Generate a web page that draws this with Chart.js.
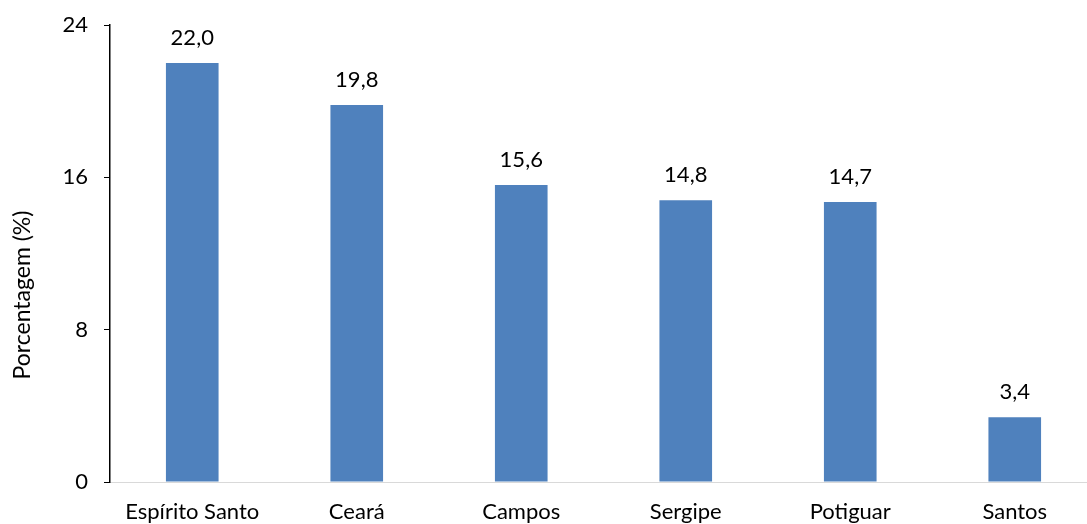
<!DOCTYPE html>
<html>
<head>
<meta charset="utf-8">
<script src="https://cdn.jsdelivr.net/npm/chart.js@4"></script>
<style>
  html, body { margin: 0; padding: 0; overflow: hidden; background: #fff; }
  #wrap { width: 1100px; height: 524px; }
</style>
</head>
<body>
<div id="wrap"><canvas id="barChart" width="1100" height="524"></canvas></div>
<script>
const categories = ['Espírito Santo', 'Ceará', 'Campos', 'Sergipe', 'Potiguar', 'Santos'];
const percentages = [22.0, 19.8, 15.6, 14.8, 14.7, 3.4];
const yTicks = [0, 8, 16, 24];
const yTitle = 'Porcentagem (%)';

const fontFamily = 'Lato, "Open Sans", sans-serif';

// value labels above the bars (comma decimal) + y title placed lower like the original
const valueLabels = {
    id: 'valueLabels',
    afterDatasetsDraw(chart) {
        const ctx = chart.ctx;
        const meta = chart.getDatasetMeta(0);
        ctx.save();
        ctx.font = '22px ' + fontFamily;
        ctx.fillStyle = '#000';
        ctx.textAlign = 'center';
        ctx.textBaseline = 'middle';
        meta.data.forEach((bar, i) => {
            const txt = percentages[i].toFixed(1).replace('.', ',');
            ctx.fillText(txt, bar.x, bar.y - 25);
        });

        ctx.font = '23px ' + fontFamily;
        ctx.translate(23, 295);
        ctx.rotate(-Math.PI / 2);
        ctx.fillText(yTitle, 0, 0);
        ctx.restore();
    }
};

new Chart(document.getElementById('barChart'), {
    type: 'bar',
    data: {
        labels: categories,
        datasets: [{
            data: percentages,
            backgroundColor: '#4F81BD',
            borderWidth: 0,
            categoryPercentage: 1,
            barPercentage: 0.32
        }]
    },
    options: {
        responsive: false,
        animation: false,
        layout: { padding: { top: 25, right: 3, left: 0, bottom: 0 } },
        plugins: { legend: { display: false }, tooltip: { enabled: false } },
        scales: {
            x: {
                grid: { display: false },
                border: { color: '#D9D9D9', width: 1 },
                ticks: { color: '#000', font: { size: 22, family: fontFamily }, padding: 9, maxRotation: 0 },
                afterFit(scale) { scale.height = 42; }
            },
            y: {
                min: 0,
                max: 24,
                afterBuildTicks(scale) { scale.ticks = yTicks.map(v => ({ value: v })); },
                grid: { drawOnChartArea: false, drawTicks: true, tickLength: 6, color: '#000' },
                border: { color: '#000', width: 1.5 },
                ticks: { color: '#000', font: { size: 22, family: fontFamily }, padding: 16 },
                title: { display: false },
                afterFit(scale) {
                    scale.width = 110;
                    scale.paddingTop = 0;
                    scale.paddingBottom = 0;
                }
            }
        }
    },
    plugins: [valueLabels]
});
</script>
</body>
</html>
